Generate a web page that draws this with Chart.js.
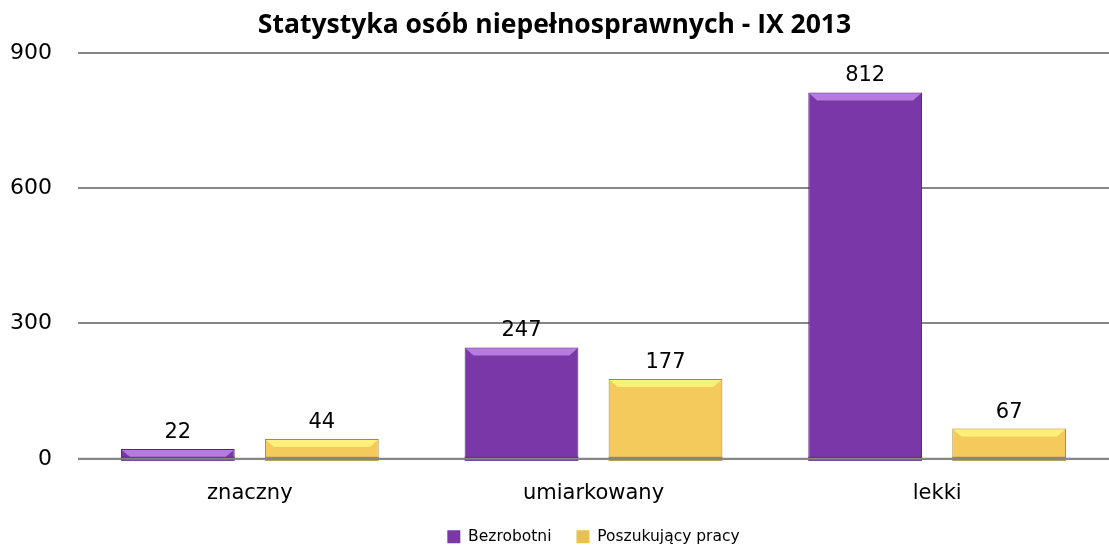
<!DOCTYPE html>
<html>
<head>
<meta charset="utf-8">
<script src="https://cdn.jsdelivr.net/npm/chart.js@4/dist/chart.umd.min.js"></script>
<style>
    html, body { margin: 0; padding: 0; background: #fff; }
    #wrap { width: 1109px; height: 546px; }
</style>
</head>
<body>
<div id="wrap"><canvas id="chart"></canvas></div>
<script>
var categories = ['znaczny', 'umiarkowany', 'lekki'];
var bezrobotni = [22, 247, 812];
var poszukujacy = [44, 177, 67];
var yTicks = [0, 300, 600, 900];

// horizontal gradient so the bars get a bit of the bevel look
function barFill(ctx, mid, edge) {
    var chart = ctx.chart;
    if (!chart.chartArea) return mid;
    var el = ctx.element;
    if (!el || el.x === undefined || !el.width) return mid;
    var half = el.width / 2;
    var g = chart.ctx.createLinearGradient(el.x - half, 0, el.x + half, 0);
    g.addColorStop(0, edge);
    g.addColorStop(0.05, mid);
    g.addColorStop(0.93, mid);
    g.addColorStop(1, edge);
    return g;
}

const valueLabels = {
    id: 'valueLabels',
    afterDatasetsDraw(chart) {
        let ctx = chart.ctx;
        ctx.save();
        ctx.font = '21px "DejaVu Sans"';
        ctx.fillStyle = '#000';
        ctx.textAlign = 'center';
        ctx.textBaseline = 'alphabetic';
        chart.data.datasets.forEach((ds, i) => {
            chart.getDatasetMeta(i).data.forEach((bar, j) => {
                ctx.fillText(ds.data[j], bar.x, bar.y - 11);
            });
        });
        ctx.restore();
    }
};

const bevelTop = {
    id: 'bevelTop',
    afterDatasetsDraw(chart) {
        let ctx = chart.ctx;
        let tops = ['#b57be0', '#fff07a'];
        let bottoms = ['#55237c', '#a8883a'];
        ctx.save();
        chart.data.datasets.forEach((ds, i) => {
            chart.getDatasetMeta(i).data.forEach(bar => {
                let half = bar.width / 2;
                let h = Math.min(8, bar.base - bar.y);
                ctx.fillStyle = tops[i];
                ctx.beginPath();
                ctx.moveTo(bar.x - half + 1, bar.y + 1);
                ctx.lineTo(bar.x + half - 1, bar.y + 1);
                ctx.lineTo(bar.x + half - 1 - h, bar.y + h);
                ctx.lineTo(bar.x - half + 1 + h, bar.y + h);
                ctx.closePath();
                ctx.fill();
                // dark foot of the bar, a little below the base line
                ctx.fillStyle = bottoms[i];
                ctx.fillRect(bar.x - half, bar.base - 1, bar.width, 4);
            });
        });
        // base line again on top of the bar feet
        let y = chart.scales.y.getPixelForValue(0);
        ctx.strokeStyle = '#868686';
        ctx.lineWidth = 2;
        ctx.beginPath();
        ctx.moveTo(chart.chartArea.left, y);
        ctx.lineTo(chart.chartArea.right, y);
        ctx.stroke();
        ctx.restore();
    }
};

// fixes the legend height so it sits low, like the original
const legendFit = {
    id: 'legendFit',
    beforeInit(chart) {
        const origFit = chart.legend.fit;
        chart.legend.fit = function () {
            origFit.bind(chart.legend)();
            this.height = 42;
        };
    }
};

const data = {
    labels: categories,
    datasets: [{
        label: 'Bezrobotni',
        data: bezrobotni,
        backgroundColor: ctx => barFill(ctx, '#7a37a8', '#5b2487'),
        borderColor: '#55237c',
        borderWidth: { left: 1, right: 1, top: 1, bottom: 0 },
        borderSkipped: false
    }, {
        label: 'Poszukujący pracy',
        data: poszukujacy,
        backgroundColor: ctx => barFill(ctx, '#f4ca5c', '#d6ab45'),
        borderColor: '#a8883a',
        borderWidth: { left: 1, right: 1, top: 1, bottom: 0 },
        borderSkipped: false
    }]
};

const config = {
    type: 'bar',
    data: data,
    options: {
        responsive: true,
        maintainAspectRatio: false,
        animation: false,
        categoryPercentage: 0.838,
        barPercentage: 0.79,
        layout: { padding: 0 },
        plugins: {
            title: {
                display: true,
                text: 'Statystyka osób niepełnosprawnych - IX 2013',
                color: '#000',
                font: { family: '"Open Sans"', size: 26.5, weight: 'bold' },
                padding: { top: 10, bottom: 11 }
            },
            legend: {
                position: 'bottom',
                fullSize: false,
                labels: {
                    color: '#000',
                    boxWidth: 13,
                    boxHeight: 13,
                    padding: 25,
                    font: { family: '"DejaVu Sans"', size: 15.5 },
                    generateLabels: function (chart) {
                        let fills = ['#7a37a8', '#e8c14f'];
                        return chart.data.datasets.map((ds, i) => ({
                            text: ds.label,
                            fillStyle: fills[i],
                            strokeStyle: fills[i],
                            lineWidth: 0,
                            datasetIndex: i
                        }));
                    }
                }
            },
            tooltip: { enabled: false }
        },
        scales: {
            x: {
                grid: { display: false, drawTicks: false },
                border: { display: false },
                afterFit: scale => { scale.height -= 24; },
                ticks: {
                    color: '#000',
                    padding: 22,
                    font: { family: '"DejaVu Sans"', size: 21 }
                }
            },
            y: {
                min: 0,
                max: 900,
                afterBuildTicks: axis => { axis.ticks = yTicks.map(v => ({ value: v })); },
                afterFit: scale => { scale.width -= 16; },
                grid: { color: '#868686', lineWidth: 2, drawTicks: false },
                border: { display: false },
                ticks: {
                    color: '#000',
                    padding: 26,
                    font: { family: '"DejaVu Sans"', size: 22 }
                }
            }
        }
    },
    plugins: [legendFit, bevelTop, valueLabels]
};

new Chart(document.getElementById('chart').getContext('2d'), config);
</script>
</body>
</html>
